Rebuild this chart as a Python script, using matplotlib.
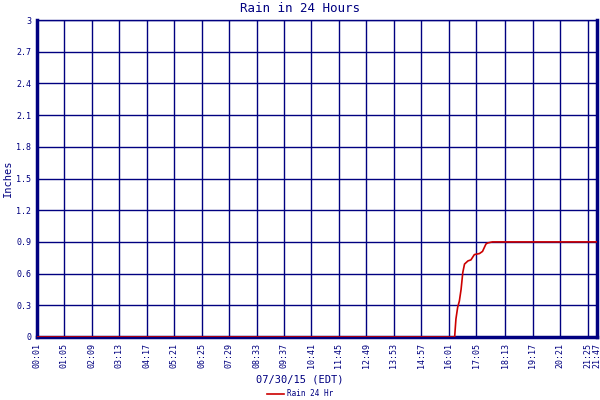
import matplotlib
matplotlib.use("Agg")
import matplotlib.pyplot as plt

NAVY = "#000080"
RED = "#cc0000"

times = ["00:01", "16:15", "16:18", "16:22", "16:26", "16:30", "16:34", "16:38",
         "16:46", "16:53", "17:01", "17:13", "17:20", "17:28", "17:32", "17:43", "21:47"]
rain = [0.0, 0.0, 0.17, 0.28, 0.34, 0.45, 0.61, 0.69,
        0.72, 0.73, 0.78, 0.79, 0.81, 0.88, 0.89, 0.90, 0.90]

tick_labels = ["00:01", "01:05", "02:09", "03:13", "04:17", "05:21", "06:25", "07:29",
               "08:33", "09:37", "10:41", "11:45", "12:49", "13:53", "14:57", "16:01",
               "17:05", "18:13", "19:17", "20:21", "21:25", "21:47"]
y_ticks = [0, 0.3, 0.6, 0.9, 1.2, 1.5, 1.8, 2.1, 2.4, 2.7, 3]
y_labels = ["0", "0.3", "0.6", "0.9", "1.2", "1.5", "1.8", "2.1", "2.4", "2.7", "3"]


def to_min(s):
    h, m = s.split(":")
    return int(h) * 60 + int(m)


x = [to_min(t) for t in times]
xt = [to_min(t) for t in tick_labels]

plt.rcParams["font.family"] = ["DejaVu Sans Mono"]
fig = plt.figure(figsize=(6, 4), dpi=100)
ax = fig.add_axes([37 / 600, 1 - 337 / 400, 560 / 600, 317 / 400])

ax.plot(x, rain, color=RED, lw=1.2, label="Rain 24 Hr", zorder=3)
ax.set_xlim(xt[0], xt[-1])
ax.set_ylim(0, 3)
ax.set_xticks(xt)
ax.set_xticklabels(tick_labels, rotation=90, fontsize=6, color=NAVY)
ax.set_yticks(y_ticks)
ax.set_yticklabels(y_labels, fontsize=6, color=NAVY)
ax.tick_params(length=0, pad=4)
ax.grid(True, color=NAVY, lw=1.0)
ax.set_axisbelow(True)
for side in ["left", "right", "bottom"]:
    ax.spines[side].set_color(NAVY)
    ax.spines[side].set_linewidth(2.5)
ax.spines["top"].set_color(NAVY)
ax.spines["top"].set_linewidth(1.0)

fig.text(0.5, 1 - 9 / 400, "Rain in 24 Hours", ha="center", va="center",
         fontsize=9, color=NAVY)
fig.text(8 / 600, 1 - 178 / 400, "Inches", ha="center", va="center",
         rotation=90, fontsize=7.5, color=NAVY)
fig.text(0.5, 1 - 379 / 400, "07/30/15 (EDT)", ha="center", va="center",
         fontsize=7.5, color=NAVY)
leg = fig.legend(loc="center", bbox_to_anchor=(0.5, 1 - 394 / 400), frameon=False,
                 fontsize=5.5, handlelength=2.2, handletextpad=0.4)
for t in leg.get_texts():
    t.set_color(NAVY)

fig.savefig("out.png", dpi=100)
